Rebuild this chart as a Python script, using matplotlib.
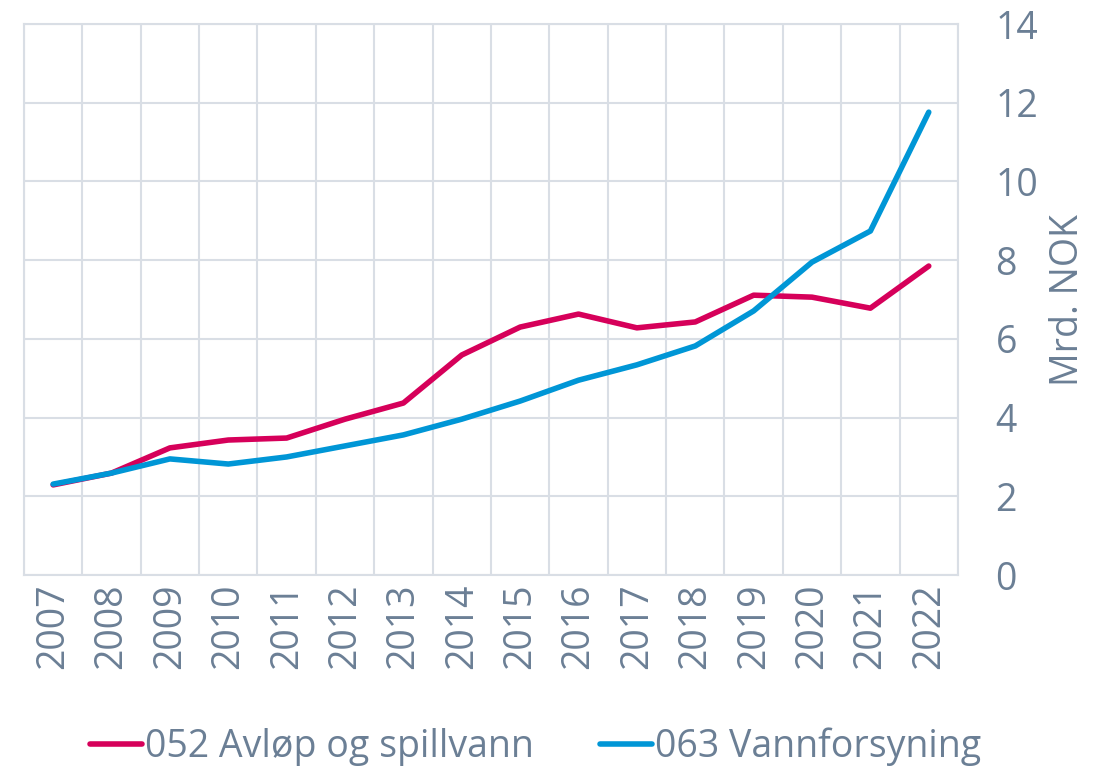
import numpy as np
import matplotlib
matplotlib.use("Agg")
import matplotlib.pyplot as plt

years = ["2007", "2008", "2009", "2010", "2011", "2012", "2013", "2014",
         "2015", "2016", "2017", "2018", "2019", "2020", "2021", "2022"]
avlop = [2.29, 2.59, 3.23, 3.43, 3.48, 3.96, 4.37, 5.59,
         6.30, 6.63, 6.28, 6.43, 7.11, 7.06, 6.78, 7.85]
vann = [2.31, 2.59, 2.95, 2.82, 3.00, 3.28, 3.56, 3.96,
        4.42, 4.95, 5.34, 5.82, 6.71, 7.95, 8.74, 11.76]
labels = ["052 Avløp og spillvann", "063 Vannforsyning"]

grey = "#6B7F95"
gridc = "#D9DEE5"
plt.rcParams['font.family'] = ['Open Sans', 'DejaVu Sans']

fig = plt.figure(figsize=(11.09, 7.67), dpi=100)
ax = fig.add_axes([0.0216, 0.2503, 0.8422, 0.7184])

x = np.arange(len(years))
ax.plot(x, avlop, color="#D6005A", lw=4, solid_capstyle="round", label=labels[0])
ax.plot(x, vann, color="#0096D6", lw=4, solid_capstyle="round", label=labels[1])

ax.set_xlim(-0.5, len(years) - 0.5)
ax.set_ylim(0, 14)
ax.set_yticks(np.arange(0, 15, 2))
ax.set_xticks(x)
ax.set_xticklabels(years, rotation=90)
ax.set_xticks(np.arange(-0.5, len(years), 1), minor=True)
ax.grid(True, which="minor", axis="x", color=gridc, lw=1.5)
ax.grid(True, which="major", axis="y", color=gridc, lw=1.5)
ax.set_axisbelow(True)
ax.tick_params(which="both", length=0)
ax.tick_params(axis="x", colors=grey, labelsize=27, pad=6)
ax.tick_params(axis="y", colors=grey, labelsize=27, pad=27)
ax.yaxis.tick_right()
for lab in ax.get_yticklabels():
    lab.set_horizontalalignment("left")
ax.yaxis.set_label_position("right")
ax.set_ylabel("Mrd. NOK", color=grey, fontsize=27, labelpad=8)
for s in ax.spines.values():
    s.set_color(gridc)
    s.set_linewidth(1.5)

leg = fig.legend(loc="center left", bbox_to_anchor=(0.064, 0.026), ncol=2,
                 frameon=False, fontsize=27, handlelength=1.4, handletextpad=0.08,
                 columnspacing=1.75, labelcolor=grey, borderpad=0)

fig.savefig("out.png", dpi=100)
